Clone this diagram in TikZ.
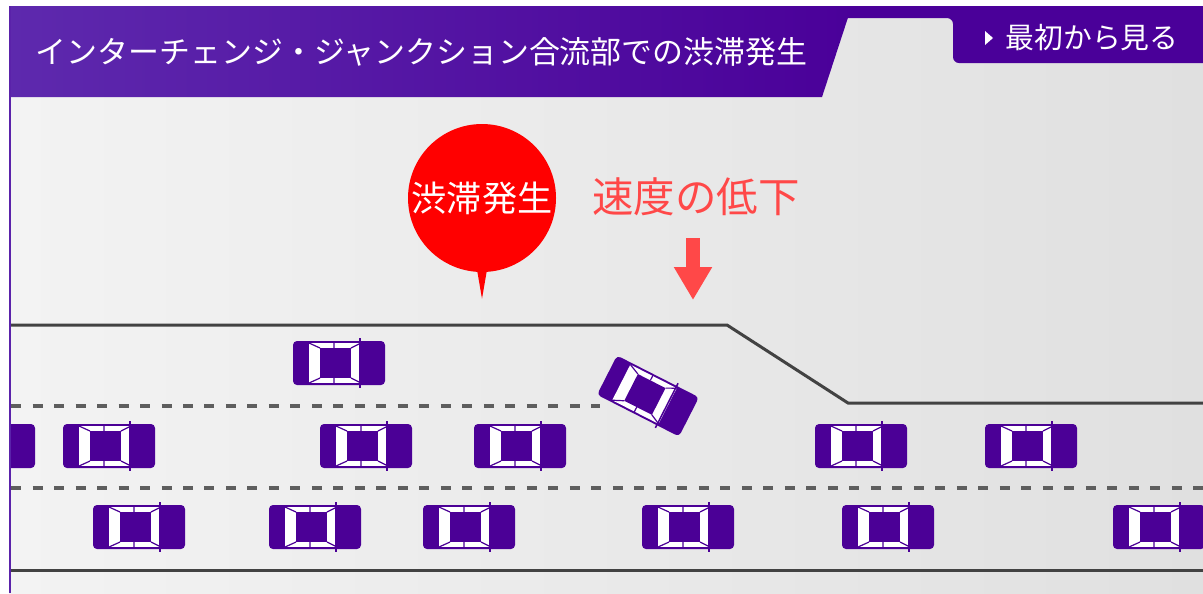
\documentclass[tikz,border=0pt]{standalone}
\usepackage{fontspec}
\newfontfamily\jpfont{Noto Sans CJK JP}
\usetikzlibrary{arrows.meta,calc}
\definecolor{hdrA}{HTML}{5E2AAE}
\definecolor{hdrB}{HTML}{4A0099}
\definecolor{carP}{HTML}{4B0096}
\definecolor{bgA}{HTML}{F3F3F3}
\definecolor{bgB}{HTML}{E0E0E0}
\definecolor{roadG}{HTML}{424242}
\definecolor{laneG}{HTML}{5E5E5E}
\definecolor{jamR}{HTML}{FF0000}
\definecolor{slowR}{HTML}{FF4848}
\tikzset{
  % top view of a car, nose pointing to +x
  car/.pic={
    \fill[carP, rounded corners=0.4mm] (-46,-22) rectangle (46,22);
    \fill[white] (-30,-20) rectangle (22,20);
    \fill[carP] (-19,-15) rectangle (12,15);
    \draw[carP, line width=0.12mm]
      (-30,-20) -- (-19,-15) (-30,20) -- (-19,15)
      (22,-20) -- (12,-15) (22,20) -- (12,15)
      (-5,-21) -- (-5,-15) (-5,15) -- (-5,21);
    \draw[carP, line width=0.15mm] (21,-25) -- (21,25);
  },
  roadline/.style={roadG, line width=0.3mm},
  laneline/.style={laneG, line width=0.4mm, dash pattern=on 1mm off 1.15mm},
  hdrtext/.style={anchor=west, inner sep=0pt, text=white},
  jambubble/.style={circle, fill=jamR, minimum size=14.8mm, inner sep=0pt,
    text=white, font=\jpfont\fontsize{10}{12}\selectfont},
  slowarrow/.style={slowR, line width=1.4mm,
    -{Triangle[width=3.6mm, length=3.3mm]}}
}

\begin{document}
\begin{tikzpicture}[x=0.1mm, y=-0.1mm]
  \useasboundingbox (0,0) rectangle (1203,593);
  \fill[white] (0,0) rectangle (1203,593);

  \begin{scope}
    \clip (9,6) rectangle (1203,593);
    \shade[left color=bgA, right color=bgB] (9,6) rectangle (1203,593);

    % button strip with the tab cut out of it
    \fill[hdrB, rounded corners=0.6mm] (830,-10) -- (1220,-10) -- (1220,63)
      -- (953,63) -- (953,18) -- (830,18) -- cycle;
    % title band, slanted on the right
    \shade[left color=hdrA, right color=hdrB] (-10,-10) -- (857,-10)
      -- (822,97) -- (-10,97) -- cycle;

    % road edges and lane marks
    \draw[roadline] (9,325) -- (727,325) -- (848,403) -- (1210,403);
    \draw[laneline] (11,406) -- (600,406);
    \draw[laneline] (11,488) -- (1210,488);
    \draw[roadline] (9,570) -- (1210,570);
  \end{scope}
  \draw[hdrA!80!hdrB, line width=0.2mm] (10,6) -- (10,593);

  \node[hdrtext, font=\jpfont\fontsize{8.8}{10}\selectfont]
    (title) at (35,52) {インターチェンジ・ジャンクション合流部での渋滞発生};
  \fill[white] (985,31) -- (993,38) -- (985,45) -- cycle;
  \node[hdrtext, font=\jpfont\fontsize{8.2}{10}\selectfont]
    (restart) at (1005,38) {最初から見る};

  % cars, lane by lane
  \begin{scope}
    \clip (11,6) rectangle (1203,593);
    \pic at (339,363) {car};
    \pic[rotate=-27] at (648,396) {car};
    \foreach \x in {-11,109,366,520,861,1031}
      \pic at (\x,446) {car};
    \foreach \x in {139,315,469,688,888,1159}
      \pic at (\x,527) {car};
  \end{scope}

  % jam marker and slowdown hint
  \node[jambubble] (jam) at (482,198) {渋滞発生};
  \fill[jamR] ($(jam.south)+(-5,-3)$) -- ($(jam.south)+(5,-3)$)
    -- ($(jam.south)+(0,26)$) -- cycle;
  \node[text=slowR, font=\jpfont\fontsize{11.8}{14}\selectfont]
    (slow) at (696,197) {速度の低下};
  \coordinate (arrowtop) at (693,238);
  \coordinate (arrowtip) at (693,300);
  \draw[slowarrow] (arrowtop) -- (arrowtip);
\end{tikzpicture}
\end{document}
